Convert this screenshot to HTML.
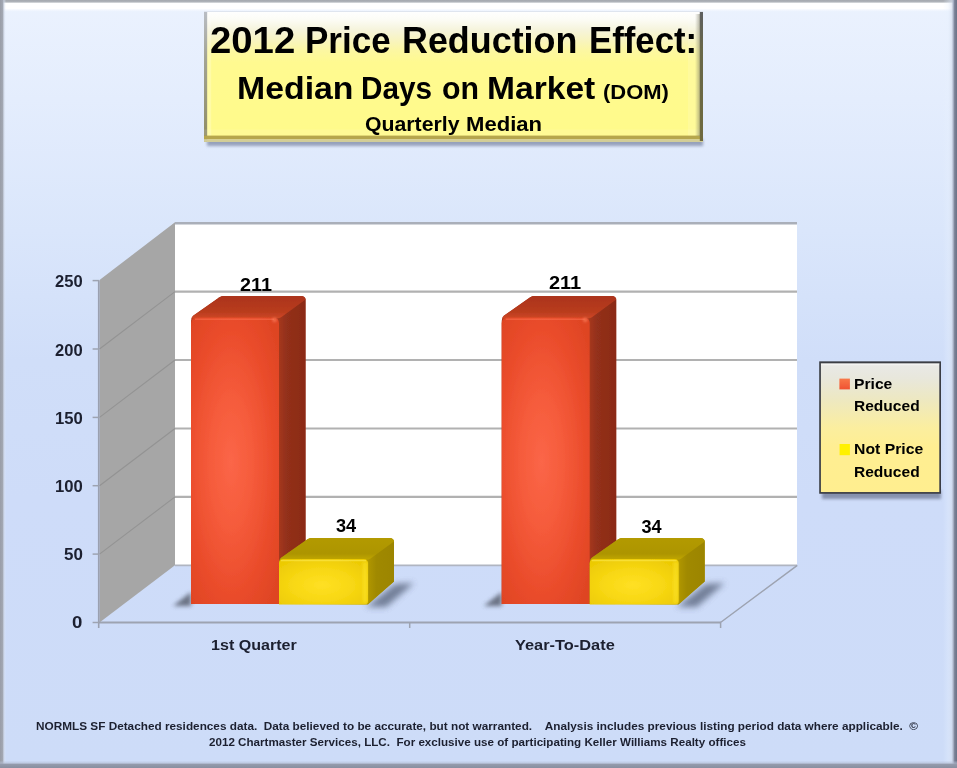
<!DOCTYPE html>
<html>
<head>
<meta charset="utf-8">
<title>2012 Price Reduction Effect</title>
<style>
html,body{margin:0;padding:0;}
body{width:957px;height:768px;overflow:hidden;position:relative;font-family:"Liberation Sans",sans-serif;background:#cbdbf8;}
#bg{position:absolute;left:0;top:0;width:957px;height:768px;}
.t{position:absolute;white-space:nowrap;font-weight:bold;color:#000;line-height:1;transform-origin:0 0;filter:blur(0.45px);}
.ax{color:#1c2030;}
</style>
</head>
<body>
<svg id="bg" width="957" height="768" viewBox="0 0 957 768">
<defs>
  <linearGradient id="gbg" x1="0" y1="0" x2="0" y2="1">
    <stop offset="0" stop-color="#ebf2fe"/>
    <stop offset="0.13" stop-color="#e4edfd"/>
    <stop offset="0.30" stop-color="#dae6fb"/>
    <stop offset="0.47" stop-color="#d0def9"/>
    <stop offset="0.65" stop-color="#cedcf9"/>
    <stop offset="1" stop-color="#cddcf8"/>
  </linearGradient>
  <linearGradient id="gtitle" x1="0" y1="0" x2="0" y2="1">
    <stop offset="0" stop-color="#ffffff"/>
    <stop offset="0.06" stop-color="#fcfcf6"/>
    <stop offset="0.14" stop-color="#f6f4dc"/>
    <stop offset="0.22" stop-color="#f8f4c0"/>
    <stop offset="0.30" stop-color="#fcf7a2"/>
    <stop offset="0.39" stop-color="#fffa90"/>
    <stop offset="1" stop-color="#fffa8a"/>
  </linearGradient>
  <linearGradient id="glegend" x1="0" y1="0" x2="0" y2="1">
    <stop offset="0" stop-color="#e9e9e8"/>
    <stop offset="0.12" stop-color="#e8e7dc"/>
    <stop offset="0.28" stop-color="#ede8c2"/>
    <stop offset="0.5" stop-color="#fbee9f"/>
    <stop offset="0.65" stop-color="#ffee92"/>
    <stop offset="1" stop-color="#ffee8f"/>
  </linearGradient>

  <linearGradient id="gftop" x1="0" y1="0" x2="0" y2="1">
    <stop offset="0" stop-color="#a4a8ae"/>
    <stop offset="0.17" stop-color="#b2b6bc"/>
    <stop offset="0.23" stop-color="#ffffff"/>
    <stop offset="0.66" stop-color="#ffffff"/>
    <stop offset="0.9" stop-color="#ebf2fe" stop-opacity="0.5"/>
    <stop offset="1" stop-color="#ebf2fe" stop-opacity="0"/>
  </linearGradient>
  <linearGradient id="gfleft" x1="0" y1="0" x2="1" y2="0">
    <stop offset="0" stop-color="#999da7"/>
    <stop offset="0.36" stop-color="#a3a8b3"/>
    <stop offset="0.47" stop-color="#c6cedd" stop-opacity="0.75"/>
    <stop offset="0.75" stop-color="#e6effd" stop-opacity="0"/>
  </linearGradient>
  <linearGradient id="gfright" x1="0" y1="0" x2="1" y2="0">
    <stop offset="0" stop-color="#e8f1fe" stop-opacity="0"/>
    <stop offset="0.35" stop-color="#e8f1fe" stop-opacity="0.3"/>
    <stop offset="0.6" stop-color="#d6dfef" stop-opacity="0.6"/>
    <stop offset="0.74" stop-color="#a9b1c5"/>
    <stop offset="0.83" stop-color="#7b8297"/>
    <stop offset="1" stop-color="#6b7286"/>
  </linearGradient>
  <linearGradient id="gfbot" x1="0" y1="0" x2="0" y2="1">
    <stop offset="0.25" stop-color="#b8c3da" stop-opacity="0"/>
    <stop offset="0.5" stop-color="#b2bcd2" stop-opacity="0.6"/>
    <stop offset="0.62" stop-color="#949bac"/>
    <stop offset="1" stop-color="#888fa0"/>
  </linearGradient>
  <linearGradient id="gtleft" x1="0" y1="0" x2="0" y2="1">
    <stop offset="0" stop-color="#b9bdc4"/>
    <stop offset="0.35" stop-color="#a3a495"/>
    <stop offset="1" stop-color="#8f8c62"/>
  </linearGradient>
  <linearGradient id="gtrfade" x1="0" y1="0" x2="1" y2="0">
    <stop offset="0" stop-color="#7d7c66" stop-opacity="0"/>
    <stop offset="1" stop-color="#7d7c66" stop-opacity="0.55"/>
  </linearGradient>
  <linearGradient id="gtright" x1="0" y1="0" x2="0" y2="1">
    <stop offset="0" stop-color="#5d5f60"/>
    <stop offset="0.3" stop-color="#696748"/>
    <stop offset="1" stop-color="#6f6a3e"/>
  </linearGradient>
  <filter id="blur15" x="-10%" y="-60%" width="120%" height="220%"><feGaussianBlur stdDeviation="1.6"/></filter>
  <linearGradient id="gsw1" x1="0" y1="0" x2="0" y2="1">
    <stop offset="0" stop-color="#f87848"/>
    <stop offset="1" stop-color="#f05232"/>
  </linearGradient>
  <radialGradient id="gred" gradientUnits="userSpaceOnUse" cx="0" cy="0" r="1" gradientTransform="translate(231 462) scale(62 190)">
    <stop offset="0" stop-color="#fb6648"/>
    <stop offset="0.35" stop-color="#f55b3b"/>
    <stop offset="0.7" stop-color="#ea4c2b"/>
    <stop offset="1" stop-color="#de4423"/>
  </radialGradient>
  <linearGradient id="gredtop" x1="0" y1="0" x2="0" y2="1">
    <stop offset="0" stop-color="#ab341a"/>
    <stop offset="0.7" stop-color="#b93c1e"/>
    <stop offset="1" stop-color="#cf4726"/>
  </linearGradient>
  <linearGradient id="gredside" x1="0" y1="0" x2="1" y2="0">
    <stop offset="0" stop-color="#a8391f"/>
    <stop offset="0.3" stop-color="#93301a"/>
    <stop offset="1" stop-color="#8b2b16"/>
  </linearGradient>
  <linearGradient id="gyelside" x1="0" y1="0" x2="1" y2="0">
    <stop offset="0" stop-color="#b29800"/>
    <stop offset="0.35" stop-color="#a08900"/>
    <stop offset="1" stop-color="#9c8500"/>
  </linearGradient>
  <linearGradient id="gyeltop" x1="0" y1="0" x2="0" y2="1">
    <stop offset="0" stop-color="#b39a00"/>
    <stop offset="0.7" stop-color="#ad9500"/>
    <stop offset="1" stop-color="#c4a900"/>
  </linearGradient>
  <radialGradient id="gyel" gradientUnits="userSpaceOnUse" cx="0" cy="0" r="1" gradientTransform="translate(322 585) scale(58 30)">
    <stop offset="0" stop-color="#ffe024"/>
    <stop offset="0.5" stop-color="#f8d814"/>
    <stop offset="1" stop-color="#ecca04"/>
  </radialGradient>
  <filter id="soft" x="-5%" y="-5%" width="110%" height="110%"><feGaussianBlur stdDeviation="0.55"/></filter>
  <filter id="blur1" x="-20%" y="-20%" width="140%" height="140%"><feGaussianBlur stdDeviation="0.8"/></filter>
  <filter id="blur3" x="-30%" y="-30%" width="160%" height="160%"><feGaussianBlur stdDeviation="3"/></filter>
  <filter id="blur4" x="-30%" y="-30%" width="160%" height="160%"><feGaussianBlur stdDeviation="4"/></filter>
  <filter id="blur2" x="-30%" y="-30%" width="160%" height="160%"><feGaussianBlur stdDeviation="2"/></filter>
</defs>

<!-- background -->
<rect x="0" y="0" width="957" height="768" fill="url(#gbg)"/>
<!-- frame bevel -->
<rect x="0" y="0" width="957" height="13" fill="url(#gftop)"/>
<rect x="0" y="0" width="8" height="768" fill="url(#gfleft)"/>
<rect x="943" y="0" width="14" height="768" fill="url(#gfright)"/>
<rect x="0" y="758" width="957" height="10" fill="url(#gfbot)"/>

<g filter="url(#soft)">
<!-- ===== title box ===== -->
<rect x="207" y="139" width="496" height="7" fill="#8e99b4" opacity="0.9" filter="url(#blur15)"/>
<rect x="204" y="11.5" width="499" height="130" fill="url(#gtitle)"/>
<rect x="204" y="11" width="499" height="1" fill="#dfe5ef"/>
<rect x="204" y="12" width="3.2" height="129.5" fill="url(#gtleft)"/>
<rect x="207.2" y="14" width="4" height="122" fill="#ffffff" opacity="0.22"/>
<rect x="688" y="14" width="12" height="122" fill="#ffffff" opacity="0.12"/>
<rect x="204" y="129.5" width="496" height="6" fill="#ffffff" opacity="0.10"/>
<rect x="204" y="135.6" width="499" height="3.5" fill="#b6a64e"/>
<rect x="204" y="139.1" width="499" height="2.7" fill="#d3cd97"/>
<rect x="695" y="14" width="5" height="122" fill="url(#gtrfade)"/>
<rect x="699.8" y="12" width="3.2" height="129" fill="url(#gtright)"/>

</g>
<g filter="url(#soft)">
<!-- ===== chart walls ===== -->
<!-- back wall -->
<rect x="175" y="222.5" width="622" height="342.8" fill="#ffffff"/>
<!-- side wall -->
<polygon points="99.5,280.1 175,222.2 175,565.3 99.5,622.5" fill="#a6a6a6"/>
<!-- back wall gridlines -->
<g stroke="#b1b1b1" stroke-width="2.1">
  <line x1="175" y1="223.2" x2="797" y2="223.2" stroke="#aaafb9" stroke-width="2.6"/>
  <line x1="175" y1="291.6" x2="797" y2="291.6"/>
  <line x1="175" y1="360.0" x2="797" y2="360.0"/>
  <line x1="175" y1="428.5" x2="797" y2="428.5"/>
  <line x1="175" y1="496.9" x2="797" y2="496.9"/>
  <line x1="175" y1="565.3" x2="797" y2="565.3" stroke="#b0b5c1" stroke-width="1.8"/>
</g>
<!-- side wall gridlines -->
<g stroke="#939393" stroke-width="1.1">
  <line x1="99.5" y1="349.0" x2="175" y2="291.6"/>
  <line x1="99.5" y1="417.4" x2="175" y2="360.0"/>
  <line x1="99.5" y1="485.7" x2="175" y2="428.5"/>
  <line x1="99.5" y1="554.1" x2="175" y2="496.9"/>
</g>
<!-- floor edges -->
<g stroke="#9da3b1" stroke-width="1.9" fill="none">
  <line x1="98.5" y1="622.5" x2="721" y2="622.5"/>
  <line x1="720.5" y1="622.5" x2="797.3" y2="565.3" stroke-width="1.5"/>
  <line x1="98.7" y1="280.6" x2="98.7" y2="628" stroke="#9aa0b0" stroke-width="1.6"/>
  <line x1="409.7" y1="622.5" x2="409.7" y2="628" stroke-width="1.5"/>
  <line x1="720.6" y1="622.5" x2="720.6" y2="628" stroke-width="1.5"/>
</g>
<!-- y ticks -->
<g stroke="#9da3b1" stroke-width="1.5">
  <line x1="92.6" y1="280.6" x2="99" y2="280.6"/>
  <line x1="92.6" y1="349.0" x2="99" y2="349.0"/>
  <line x1="92.6" y1="417.4" x2="99" y2="417.4"/>
  <line x1="92.6" y1="485.7" x2="99" y2="485.7"/>
  <line x1="92.6" y1="554.1" x2="99" y2="554.1"/>
  <line x1="92.6" y1="622.5" x2="99" y2="622.5"/>
</g>

<!-- ===== bars ===== -->
<g>
  <!-- floor shadows -->
  <polygon points="173,606 191,592 191,606" fill="#5a6070" opacity="0.85" filter="url(#blur2)"/>
  <polygon points="366,607 395,584 414,583 386,607" fill="#5c6780" opacity="0.8" filter="url(#blur3)"/>
  <!-- red bar silhouette -->
  <path d="M191,604 L191,321 Q191,317.5 193.5,315.5 L219.5,297.3 Q221.5,296 224,296 L301,296 Q305.5,296 305.5,300.5 L305.5,584 L279,604 Z" fill="#a5351b"/>
  <!-- red side -->
  <path d="M278,319 L305.5,298.5 L305.5,584 L278,604 Z" fill="url(#gredside)"/>
  <!-- red top -->
  <path d="M191.5,318.5 Q191.8,316.6 193.5,315.5 L219.5,297.3 Q221.5,296 224,296 L301,296 Q305.5,296 305.5,299.5 L281.5,317 Q280,318.2 277,318.5 Z" fill="url(#gredtop)"/>
  <!-- red front -->
  <path d="M191,323.5 Q191,317.5 197,317.5 L273,317.5 Q279,317.5 279,323.5 L279,604 L191,604 Z" fill="url(#gred)"/>
  <path d="M195,319.2 L274,319.2" stroke="#ff7a58" stroke-width="1.4" opacity="0.45" fill="none"/>
  <circle cx="274.5" cy="320" r="2.4" fill="#ff8a66" opacity="0.55" filter="url(#blur1)"/>
  <!-- yellow bar silhouette -->
  <path d="M279,604 L279,563 Q279,559.5 281.5,557.5 L307.5,539.3 Q309.5,538 312,538 L389.5,538 Q394,538 394,542.5 L394,581.5 L368,604.5 Z" fill="#a89000"/>
  <!-- yellow side -->
  <path d="M367,560.5 L394,540.5 L394,581.5 L367,604.5 Z" fill="url(#gyelside)"/>
  <!-- yellow top -->
  <path d="M279.5,560.5 Q279.8,558.6 281.5,557.5 L307.5,539.3 Q309.5,538 312,538 L389.5,538 Q394,538 394,541.5 L370.5,558.5 Q369,559.8 366,560 Z" fill="url(#gyeltop)"/>
  <!-- yellow front -->
  <path d="M279,563.5 Q279,559 283.5,559 L363.5,559 Q368,559 368,563.5 L368,601 Q368,604.5 364.5,604.5 L279,604.5 Z" fill="url(#gyel)"/>
  <path d="M281,560.6 L366,560.6" stroke="#fff060" stroke-width="1.3" opacity="0.5" fill="none"/>
  <rect x="362.5" y="562" width="5" height="41" fill="#ffe830" opacity="0.45" filter="url(#blur1)"/>
</g>
<g transform="translate(310.7 0)">
  <!-- floor shadows -->
  <polygon points="173,606 191,592 191,606" fill="#5a6070" opacity="0.85" filter="url(#blur2)"/>
  <polygon points="366,607 395,584 414,583 386,607" fill="#5c6780" opacity="0.8" filter="url(#blur3)"/>
  <!-- red bar silhouette -->
  <path d="M191,604 L191,321 Q191,317.5 193.5,315.5 L219.5,297.3 Q221.5,296 224,296 L301,296 Q305.5,296 305.5,300.5 L305.5,584 L279,604 Z" fill="#a5351b"/>
  <!-- red side -->
  <path d="M278,319 L305.5,298.5 L305.5,584 L278,604 Z" fill="url(#gredside)"/>
  <!-- red top -->
  <path d="M191.5,318.5 Q191.8,316.6 193.5,315.5 L219.5,297.3 Q221.5,296 224,296 L301,296 Q305.5,296 305.5,299.5 L281.5,317 Q280,318.2 277,318.5 Z" fill="url(#gredtop)"/>
  <!-- red front -->
  <path d="M191,323.5 Q191,317.5 197,317.5 L273,317.5 Q279,317.5 279,323.5 L279,604 L191,604 Z" fill="url(#gred)"/>
  <path d="M195,319.2 L274,319.2" stroke="#ff7a58" stroke-width="1.4" opacity="0.45" fill="none"/>
  <circle cx="274.5" cy="320" r="2.4" fill="#ff8a66" opacity="0.55" filter="url(#blur1)"/>
  <!-- yellow bar silhouette -->
  <path d="M279,604 L279,563 Q279,559.5 281.5,557.5 L307.5,539.3 Q309.5,538 312,538 L389.5,538 Q394,538 394,542.5 L394,581.5 L368,604.5 Z" fill="#a89000"/>
  <!-- yellow side -->
  <path d="M367,560.5 L394,540.5 L394,581.5 L367,604.5 Z" fill="url(#gyelside)"/>
  <!-- yellow top -->
  <path d="M279.5,560.5 Q279.8,558.6 281.5,557.5 L307.5,539.3 Q309.5,538 312,538 L389.5,538 Q394,538 394,541.5 L370.5,558.5 Q369,559.8 366,560 Z" fill="url(#gyeltop)"/>
  <!-- yellow front -->
  <path d="M279,563.5 Q279,559 283.5,559 L363.5,559 Q368,559 368,563.5 L368,601 Q368,604.5 364.5,604.5 L279,604.5 Z" fill="url(#gyel)"/>
  <path d="M281,560.6 L366,560.6" stroke="#fff060" stroke-width="1.3" opacity="0.5" fill="none"/>
  <rect x="362.5" y="562" width="5" height="41" fill="#ffe830" opacity="0.45" filter="url(#blur1)"/>
</g>

</g>
<g filter="url(#soft)">
<!-- ===== legend ===== -->
<rect x="822" y="490" width="119" height="9" fill="#7f8aa6" opacity="0.9" filter="url(#blur15)"/>
<rect x="820.05" y="362.2" width="120.1" height="130.7" fill="url(#glegend)" stroke="#3b3e45" stroke-width="1.7"/>
<rect x="821" y="363" width="118.2" height="1" fill="#8e9094" opacity="0.5"/>
<rect x="821" y="364" width="118.2" height="1.2" fill="#ffffff" opacity="0.45"/>
<rect x="839.4" y="378.6" width="10.5" height="10.8" fill="url(#gsw1)"/>
<rect x="839.6" y="444" width="10.3" height="11.2" fill="#fff100"/>
</g>
</svg>

<!-- TEXT-BEGIN -->
<div class="t" id="t1a" style="left:210.23px;top:22px;font-size:37.6px;transform:scaleX(1.0192);">2012</div>
<div class="t" id="t1b" style="left:305.37px;top:22px;font-size:37.6px;transform:scaleX(0.9318);">Price</div>
<div class="t" id="t1c" style="left:401.91px;top:22px;font-size:37.6px;transform:scaleX(0.9547);">Reduction</div>
<div class="t" id="t1d" style="left:589.29px;top:22px;font-size:37.6px;transform:scaleX(0.9246);">Effect:</div>
<div class="t" id="t2a" style="left:236.65px;top:73px;font-size:31.5px;transform:scaleX(1.0737);">Median</div>
<div class="t" id="t2b" style="left:361.31px;top:73px;font-size:31.5px;transform:scaleX(0.9431);">Days</div>
<div class="t" id="t2c" style="left:441.70px;top:73px;font-size:31.5px;transform:scaleX(0.9617);">on</div>
<div class="t" id="t2d" style="left:486.87px;top:73px;font-size:31.5px;transform:scaleX(1.0660);">Market</div>
<div class="t" id="t2e" style="left:603.21px;top:82px;font-size:20.2px;transform:scaleX(1.0889);">(DOM)</div>
<div class="t" id="t3a" style="left:364.59px;top:115px;font-size:19.8px;transform:scaleX(1.0747);">Quarterly</div>
<div class="t" id="t3b" style="left:465.80px;top:115px;font-size:19.8px;transform:scaleX(1.1163);">Median</div>
<div class="t ax" id="y250" style="left:54.99px;top:273px;font-size:16.3px;transform:scaleX(1.0154);">250</div>
<div class="t ax" id="y200" style="left:54.99px;top:342px;font-size:16.3px;transform:scaleX(1.0154);">200</div>
<div class="t ax" id="y150" style="left:54.89px;top:410px;font-size:16.5px;transform:scaleX(1.0097);">150</div>
<div class="t ax" id="y100" style="left:54.89px;top:478px;font-size:16.5px;transform:scaleX(1.0097);">100</div>
<div class="t ax" id="y50" style="left:64.08px;top:546px;font-size:16.4px;transform:scaleX(1.0353);">50</div>
<div class="t ax" id="y0" style="left:72.32px;top:615px;font-size:15.9px;transform:scaleX(1.1733);">0</div>
<div class="t" id="v1" style="left:239.50px;top:276px;font-size:18.6px;transform:scaleX(1.0643);">211</div>
<div class="t" id="v2" style="left:335.51px;top:517px;font-size:18.7px;transform:scaleX(0.9728);">34</div>
<div class="t" id="v3" style="left:548.67px;top:274px;font-size:18.0px;transform:scaleX(1.1099);">211</div>
<div class="t" id="v4" style="left:641.50px;top:518px;font-size:18.1px;transform:scaleX(1.0000);">34</div>
<div class="t ax" id="x1" style="left:211.41px;top:638px;font-size:14.8px;transform:scaleX(1.0868);">1st Quarter</div>
<div class="t ax" id="x2" style="left:515.02px;top:638px;font-size:14.8px;transform:scaleX(1.1061);">Year-To-Date</div>
<div class="t lg" id="l1" style="left:853.96px;top:376px;font-size:15.0px;transform:scaleX(1.0440);">Price</div>
<div class="t lg" id="l2" style="left:853.93px;top:399px;font-size:14.5px;transform:scaleX(1.0717);">Reduced</div>
<div class="t lg" id="l3" style="left:853.96px;top:441px;font-size:15.1px;transform:scaleX(1.0440);">Not Price</div>
<div class="t lg" id="l4" style="left:853.94px;top:465px;font-size:14.7px;transform:scaleX(1.0583);">Reduced</div>
<div class="t ax" id="f1" style="left:35.73px;top:721px;font-size:11.5px;transform:scaleX(1.0242);">NORMLS SF Detached residences data.&nbsp; Data believed to be accurate, but not warranted.&nbsp;&nbsp;&nbsp; Analysis includes previous listing period data where applicable.&nbsp; &copy;</div>
<div class="t ax" id="f2" style="left:209.19px;top:737px;font-size:11.5px;transform:scaleX(1.0111);">2012 Chartmaster Services, LLC.&nbsp; For exclusive use of participating Keller Williams Realty offices</div>
<!-- TEXT-END -->
</body>
</html>
